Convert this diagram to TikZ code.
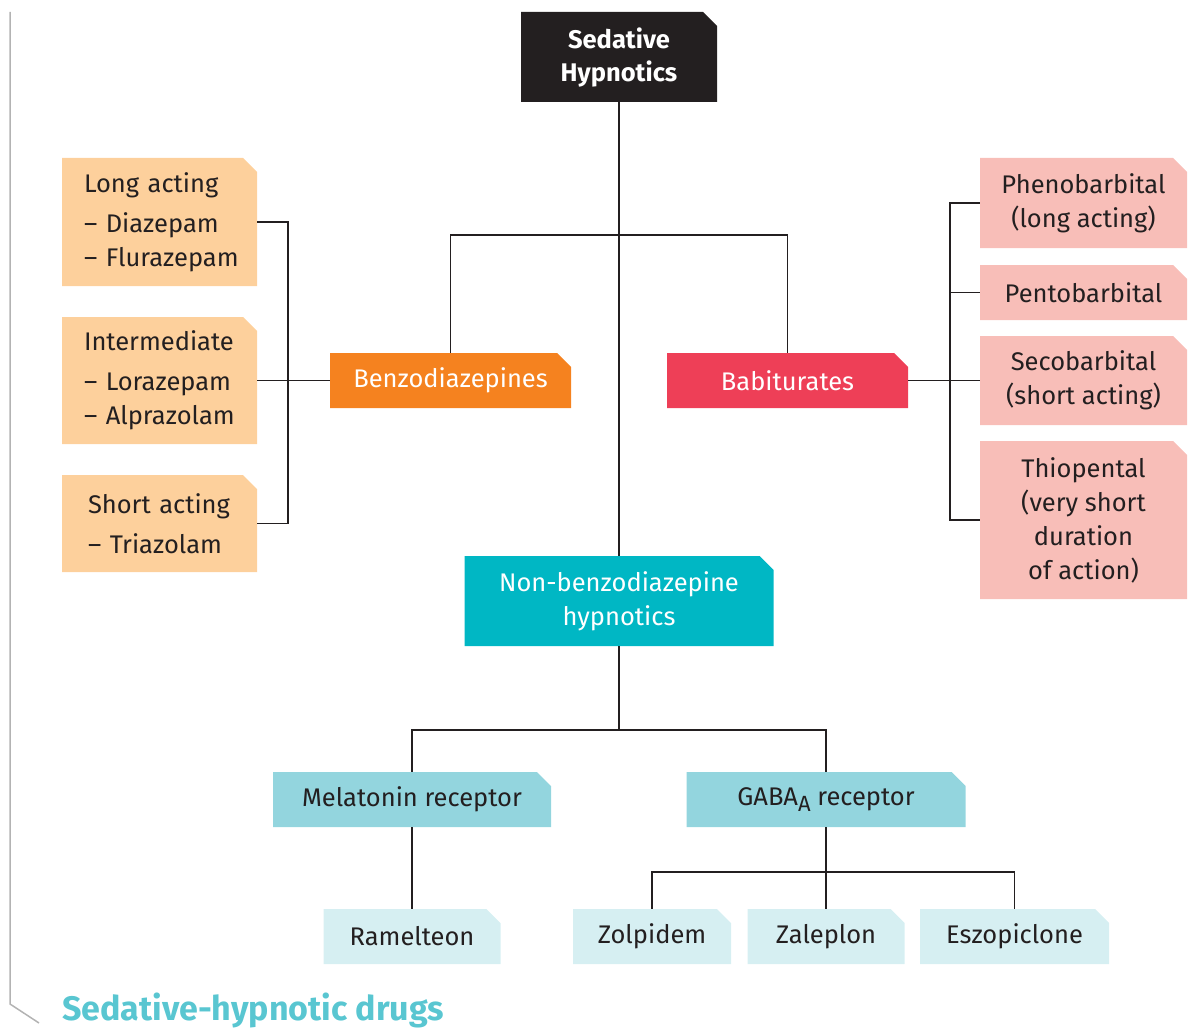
\documentclass[tikz,border=0pt]{standalone}
\usepackage{fontspec}
\setmainfont{Fira Sans}
\definecolor{ink}{HTML}{231F20}
\definecolor{cBlack}{HTML}{231F20}
\definecolor{cOrange}{HTML}{F5821F}
\definecolor{cRed}{HTML}{EE3F57}
\definecolor{cTeal}{HTML}{00B7C4}
\definecolor{cPeach}{HTML}{FDD09C}
\definecolor{cPink}{HTML}{F8BEB8}
\definecolor{cAqua}{HTML}{93D5DE}
\definecolor{cIce}{HTML}{D6EFF2}
\definecolor{cTitle}{HTML}{59C6D1}
\definecolor{cFrame}{HTML}{B3B3B3}
\begin{document}
\begin{tikzpicture}[x=1pt,y=-1pt,
  notched/.style={rectangle, inner sep=0pt,
    path picture={\fill[#1] (path picture bounding box.south west)
      -- (path picture bounding box.north west)
      -- ([xshift=-14pt]path picture bounding box.north east)
      -- ([yshift=-14pt]path picture bounding box.north east)
      -- (path picture bounding box.south east) -- cycle;}},
  txt/.style={font=\fontsize{25.5}{34}\selectfont},
  dark/.style={text=ink},
  light/.style={text=white},
  listbox/.style={notched=cPeach, txt, dark, inner xsep=22pt, text width=151pt, align=left, minimum width=195pt},
  barbbox/.style={notched=cPink, txt, dark, align=center, minimum width=207pt},
  link/.style={draw=ink, line width=1.3pt},
]
\useasboundingbox (0,0) rectangle (1189,1030);

% frame line on the left
\draw[cFrame, line width=1.5pt] (10,12) -- (10,1004) -- (39,1023);

% top level
\node[notched=cBlack, light, align=center, minimum width=196pt, minimum height=90pt,
      font=\fontsize{25.5}{33}\selectfont\bfseries] (sed) at (619,57) {Sedative\\Hypnotics};

% classes
\node[notched=cOrange, txt, light, minimum width=241pt, minimum height=55pt] (benzo) at (450.5,380.5) {Benzodiazepines};
\node[notched=cRed, txt, light, minimum width=241pt, minimum height=55pt] (barb) at (787.5,380.5) {Babiturates};
\node[notched=cTeal, txt, light, align=center, minimum width=309pt, minimum height=90pt] (nonbz) at (619,601) {Non-benzodiazepine\\hypnotics};

% benzodiazepines by duration
\node[listbox, minimum height=128pt] (long) at (159.5,222)
  {\mbox{Long acting}\\[6pt]\mbox{– Diazepam}\\\mbox{– Flurazepam}};
\node[listbox, minimum height=127pt] (inter) at (159.5,380.5)
  {\mbox{Intermediate}\\[6pt]\mbox{– Lorazepam}\\\mbox{– Alprazolam}};
\node[listbox, inner xsep=26pt, text width=143pt, minimum height=97pt] (short) at (159.5,523.5)
  {\mbox{Short acting}\\[6pt]\mbox{– Triazolam}};

% barbiturates
\node[barbbox, minimum height=90pt] (pheno) at (1083.5,203) {Phenobarbital\\(long acting)};
\node[barbbox, minimum height=55pt] (pento) at (1083.5,292.5) {Pentobarbital};
\node[barbbox, minimum height=89pt] (seco) at (1083.5,380.5) {Secobarbital\\(short acting)};
\node[barbbox, minimum height=158pt] (thio) at (1083.5,520) {Thiopental\\(very short\\duration\\of action)};

% receptors
\node[notched=cAqua, txt, dark, minimum width=278pt, minimum height=55pt] (mela) at (412,799.5) {Melatonin receptor};
\node[notched=cAqua, txt, dark, minimum width=279pt, minimum height=55pt] (gaba) at (826,799.5)
  {GABA\raisebox{-6pt}{\fontsize{22}{22}\selectfont A} receptor};

% drugs
\node[notched=cIce, txt, dark, minimum width=177pt, minimum height=55pt] (ramel) at (412,936.5) {Ramelteon};
\node[notched=cIce, txt, dark, minimum width=158pt, minimum height=55pt] (zolp) at (652,936.5) {Zolpidem};
\node[notched=cIce, txt, dark, minimum width=157pt, minimum height=55pt] (zale) at (826,936.5) {Zaleplon};
\node[notched=cIce, txt, dark, minimum width=189pt, minimum height=55pt] (eszo) at (1014.5,936.5) {Eszopiclone};

% junction points
\coordinate (bt) at (619,235);
\coordinate (lb) at (288,380);
\coordinate (rb) at (950,380);
\coordinate (nt) at (619,730);
\coordinate (gt) at (826,872);

% connectors
\draw[link] (sed.south) -- (nonbz.north);
\draw[link] (benzo.north) |- (bt) -| (barb.north);
\draw[link] (long.east) -| (lb) |- (short.east);
\draw[link] (inter.east) -- (benzo.west);
\draw[link] (pheno.west) -| (rb) |- (thio.west);
\draw[link] (barb.east) -- (seco.west);
\draw[link] (pento.west) -- (pento.west -| rb);
\draw[link] (nonbz.south) -- (nt);
\draw[link] (mela.north) |- (nt) -| (gaba.north);
\draw[link] (mela.south) -- (ramel.north);
\draw[link] (gaba.south) -- (gt);
\draw[link] (zolp.north) |- (gt) -| (eszo.north);
\draw[link] (gt) -- (zale.north);

% caption
\node[anchor=base west, inner sep=0pt, text=cTitle, font=\fontsize{34}{40}\selectfont\bfseries] (title) at (62,1020) {Sedative-hypnotic drugs};
\end{tikzpicture}
\end{document}
